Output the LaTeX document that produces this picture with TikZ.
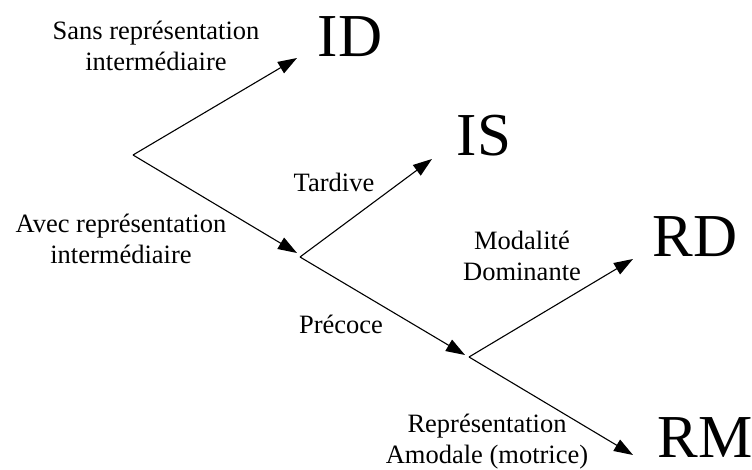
\documentclass[tikz,border=0pt]{standalone}
\usepackage{fontspec}
\setmainfont{Liberation Serif}
\usetikzlibrary{arrows.meta}
\begin{document}
\begin{tikzpicture}[x=1pt,y=-1pt,
  lbl/.style={align=center,inner sep=0pt,font=\fontsize{26.5}{31}\selectfont},
  big/.style={inner sep=0pt,font=\fontsize{61}{70}\selectfont},
  arr/.style={line width=1.1pt,-{Triangle[length=19pt,width=13pt]}},
  seg/.style={line width=1.1pt}]
\useasboundingbox (0,0) rectangle (752,470);
% branch points and arrow tips
\coordinate (O) at (133,155);
\coordinate (B1) at (300,257);
\coordinate (B2) at (469,357);
\coordinate (tID) at (297,58);
\coordinate (tB1) at (297,253);
\coordinate (tIS) at (432,159);
\coordinate (tB2) at (465,355);
\coordinate (tRD) at (633,259);
\coordinate (tRM) at (633,455);
% terminal labels
\node[big] (ID) at (350,37) {ID};
\node[big] (IS) at (484,136) {IS};
\node[big] (RD) at (695,237) {RD};
\node[big] (RM) at (705,438) {RM};
% branch labels
\node[lbl] (sans) at (156,46) {Sans représentation\\intermédiaire};
\node[lbl] (avec) at (121,239) {Avec représentation\\intermédiaire};
\node[lbl] (tard) at (334,182) {Tardive};
\node[lbl] (prec) at (341,324) {Précoce};
\node[lbl] (moda) at (522,256) {Modalité\\Dominante};
\node[lbl] (repr) at (487,442) {Représentation\\Amodale (motrice)};
% connectors
\draw[arr] (O) -- (tID);
\draw[arr] (O) -- (tB1);
\draw[arr] (B1) -- (tIS);
\draw[arr] (B1) -- (tB2);
\draw[arr] (B2) -- (tRD);
\draw[arr] (B2) -- (tRM);
\end{tikzpicture}
\end{document}
